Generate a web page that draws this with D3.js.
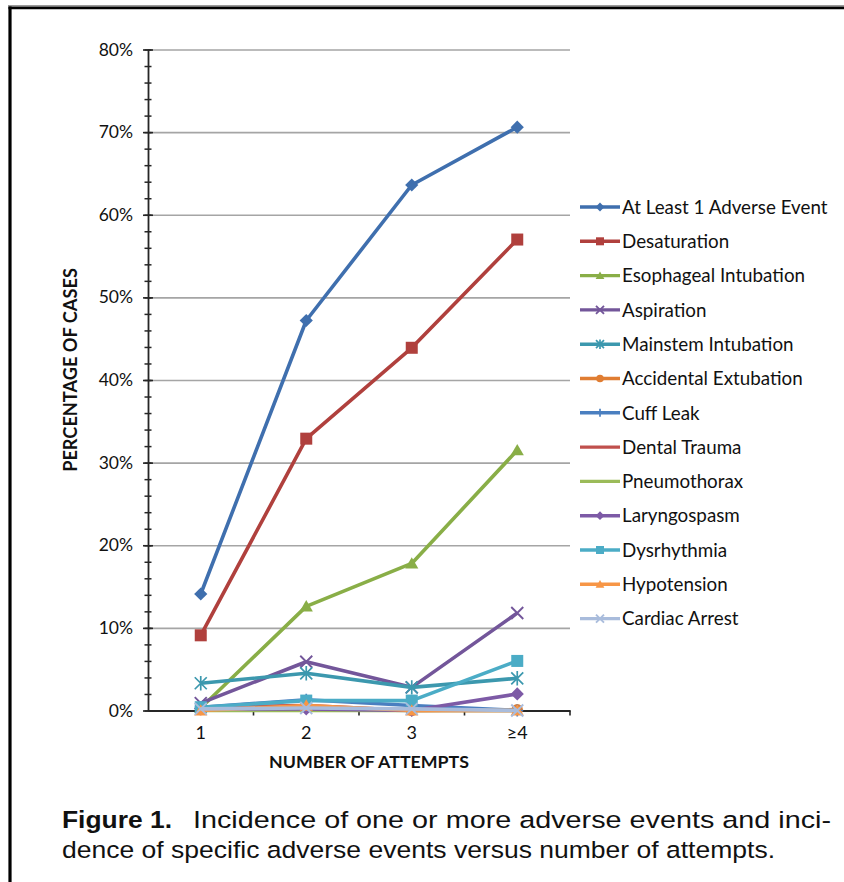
<!DOCTYPE html>
<html>
<head>
<meta charset="utf-8">
<script src="https://cdn.jsdelivr.net/npm/d3@7/dist/d3.min.js"></script>
<style>
  html, body { margin: 0; padding: 0; background: #fff; }
  svg { display: block; }
</style>
</head>
<body>
<svg id="chart" width="844" height="882"></svg>
<script>
// ---------- DATA ----------
const categories = ["1", "2", "3", "≥4"];
const seriesNames = [
  "At Least 1 Adverse Event", "Desaturation", "Esophageal Intubation", "Aspiration",
  "Mainstem Intubation", "Accidental Extubation", "Cuff Leak", "Dental Trauma",
  "Pneumothorax", "Laryngospasm", "Dysrhythmia", "Hypotension", "Cardiac Arrest"
];
const atLeastOne      = [14.1, 47.2, 63.6, 70.6];
const desaturation    = [9.1, 32.9, 43.9, 57.0];
const esophageal      = [0.3, 12.6, 17.8, 31.5];
const aspiration      = [0.9, 5.9, 2.8, 11.8];
const mainstem        = [3.3, 4.5, 2.8, 3.9];
const accExtubation   = [0.1, 0.4, 0.0, 0.1];
const cuffLeak        = [0.4, 1.3, 0.6, 0.0];
const dentalTrauma    = [0.4, 0.6, 0.0, 0.0];
const pneumothorax    = [0.0, 0.0, 0.0, 0.0];
const laryngospasm    = [0.2, 0.2, 0.0, 2.0];
const dysrhythmia     = [0.4, 1.2, 1.2, 6.0];
const hypotension     = [0.0, 0.6, 0.0, 0.0];
const cardiacArrest   = [0.2, 0.3, 0.2, 0.0];
const seriesValues = [atLeastOne, desaturation, esophageal, aspiration, mainstem,
  accExtubation, cuffLeak, dentalTrauma, pneumothorax, laryngospasm, dysrhythmia,
  hypotension, cardiacArrest];
const yTickValues = [0, 10, 20, 30, 40, 50, 60, 70, 80];
const yMinorValues = d3.range(0, 81, 2);
const yAxisTitle = "PERCENTAGE OF CASES";
const xAxisTitle = "NUMBER OF ATTEMPTS";
const captionBold = "Figure 1.";
const captionLine1 = "Incidence of one or more adverse events and inci-";
const captionLine2 = "dence of specific adverse events versus number of attempts.";

// ---------- STYLE ----------
const colors = ["#3F6FAE", "#B0403D", "#89AE47", "#73569A", "#3C98AE", "#E07D32",
  "#4A7FC0", "#C0504D", "#9BBB59", "#7D5AA6", "#4BACC6", "#F79646", "#A9BCDC"];
const markers = ["diamond", "square", "triangle", "x", "star", "circle", "plus",
  "none", "none", "diamond", "square", "triangle", "x"];

const svg = d3.select("#chart");
svg.append("rect").attr("width", 844).attr("height", 882).attr("fill", "#fff");

// frame
svg.append("line").attr("x1", 8).attr("x2", 844).attr("y1", 5.6).attr("y2", 5.6)
  .attr("stroke", "#9a9a9a").attr("stroke-width", 1.4);
svg.append("line").attr("x1", 8.5).attr("x2", 844).attr("y1", 7.8).attr("y2", 7.8)
  .attr("stroke", "#000").attr("stroke-width", 2.8);
svg.append("line").attr("x1", 10).attr("x2", 10).attr("y1", 6.4).attr("y2", 882)
  .attr("stroke", "#000").attr("stroke-width", 3.2);

const pLeft = 148, pRight = 570, pTop = 49.5, pBottom = 710.5;
const x = d3.scaleBand().domain(categories).range([pLeft, pRight]);
const y = d3.scaleLinear().domain([0, 80]).range([pBottom, pTop]);
const font = "Lato, 'Open Sans', sans-serif";

// gridlines
const grid = svg.append("g").attr("transform", `translate(${pLeft},0)`)
  .call(d3.axisLeft(y).tickValues(yTickValues.filter(v => v > 0)).tickSize(-(pRight - pLeft)).tickFormat(""));
grid.select(".domain").remove();
grid.selectAll("line").attr("stroke", "#A5A5A5").attr("stroke-width", 1.6);

// y axis minor ticks
const yMinor = svg.append("g").attr("transform", `translate(${pLeft},0)`)
  .call(d3.axisLeft(y).tickValues(yMinorValues).tickFormat(""));
yMinor.select(".domain").remove();
yMinor.selectAll("line").attr("x1", -3.5).attr("x2", 3.5).attr("stroke", "#262626").attr("stroke-width", 1.5);

// y axis major
const yAx = svg.append("g").attr("transform", `translate(${pLeft},0)`)
  .call(d3.axisLeft(y).tickValues(yTickValues).tickSizeInner(5).tickSizeOuter(0).tickPadding(10).tickFormat(d => d + "%"));
yAx.select(".domain").attr("stroke", "#262626").attr("stroke-width", 1.8);
yAx.selectAll("line").attr("x1", -5).attr("x2", 5).attr("stroke", "#262626").attr("stroke-width", 1.6);
yAx.selectAll("text").attr("font-family", font).attr("font-size", 17.5).attr("fill", "#111");

// x axis
const xAx = svg.append("g").attr("transform", `translate(0,${pBottom})`)
  .call(d3.axisBottom(x).tickSize(0).tickPadding(16));
xAx.select(".domain").attr("stroke", "#262626").attr("stroke-width", 1.8);
xAx.selectAll("text").attr("font-family", font).attr("font-size", 18).attr("fill", "#111");
svg.append("g").selectAll("line").data(categories).join("line")
  .attr("x1", d => x(d) + x.bandwidth()).attr("x2", d => x(d) + x.bandwidth())
  .attr("y1", pBottom).attr("y2", pBottom + 5)
  .attr("stroke", "#262626").attr("stroke-width", 1.6);

// axis titles
svg.append("text").attr("transform", `translate(${(pLeft + pRight) / 2 + 10},768)`)
  .attr("text-anchor", "middle").attr("font-family", font).attr("font-weight", "bold")
  .attr("font-size", 17.8).attr("fill", "#111").text(xAxisTitle);
svg.append("text").attr("transform", `translate(77,370) rotate(-90)`)
  .attr("text-anchor", "middle").attr("font-family", font).attr("font-weight", "bold")
  .attr("font-size", 18.2).attr("fill", "#111").text(yAxisTitle);

// marker drawing
function drawMarker(g, type, color, s) {
  const h = s / 2;
  if (type === "diamond") {
    g.append("path").attr("d", `M0,${-h * 1.1}L${h * 1.1},0L0,${h * 1.1}L${-h * 1.1},0Z`).attr("fill", color);
  } else if (type === "square") {
    g.append("rect").attr("x", -h).attr("y", -h).attr("width", s).attr("height", s).attr("fill", color);
  } else if (type === "triangle") {
    g.append("path").attr("d", `M0,${-h * 1.05}L${h * 1.1},${h * 0.85}L${-h * 1.1},${h * 0.85}Z`).attr("fill", color);
  } else if (type === "circle") {
    g.append("circle").attr("r", h * 0.95).attr("fill", color);
  } else if (type === "x") {
    g.append("path").attr("d", `M${-h},${-h}L${h},${h}M${-h},${h}L${h},${-h}`)
      .attr("stroke", color).attr("stroke-width", 1.9).attr("fill", "none");
  } else if (type === "star") {
    g.append("path").attr("d", `M${-h},${-h}L${h},${h}M${-h},${h}L${h},${-h}M0,${-h * 1.2}L0,${h * 1.2}`)
      .attr("stroke", color).attr("stroke-width", 1.7).attr("fill", "none");
  } else if (type === "plus") {
    g.append("path").attr("d", `M${-h},0L${h},0M0,${-h}L0,${h}`)
      .attr("stroke", color).attr("stroke-width", 1.7).attr("fill", "none");
  }
}

// series
const line = d3.line().x((d, i) => x(categories[i]) + x.bandwidth() / 2).y(d => y(d));
const plot = svg.append("g");
seriesValues.forEach((vals, si) => {
  const g = plot.append("g");
  g.append("path").attr("d", line(vals)).attr("fill", "none")
    .attr("stroke", colors[si]).attr("stroke-width", 3.6).attr("stroke-linejoin", "round");
  vals.forEach((v, i) => {
    const mg = g.append("g").attr("transform",
      `translate(${x(categories[i]) + x.bandwidth() / 2},${y(v)})`);
    drawMarker(mg, markers[si], colors[si], 12);
  });
});

// legend
const legend = svg.append("g");
seriesNames.forEach((name, si) => {
  const ly = 207 + si * 34.3;
  const g = legend.append("g").attr("transform", `translate(580,${ly})`);
  g.append("line").attr("x1", 0).attr("x2", 40).attr("y1", 0).attr("y2", 0)
    .attr("stroke", colors[si]).attr("stroke-width", 3.4);
  const mg = g.append("g").attr("transform", "translate(20,0)");
  drawMarker(mg, markers[si], colors[si], 8);
  g.append("text").attr("x", 42).attr("y", 0).attr("dy", "0.36em")
    .attr("font-family", font).attr("font-size", 18.8).attr("fill", "#111").text(name);
});

// caption
const capFont = "'Liberation Sans Narrow', 'Liberation Sans', Arial, sans-serif";
svg.append("text").attr("x", 62).attr("y", 828).attr("font-family", capFont)
  .attr("font-weight", "bold").attr("font-size", 24.5).attr("fill", "#111")
  .attr("textLength", 110).attr("lengthAdjust", "spacingAndGlyphs").text(captionBold);
svg.append("text").attr("x", 193).attr("y", 828).attr("font-family", capFont)
  .attr("font-size", 24.5).attr("fill", "#111")
  .attr("textLength", 638).attr("lengthAdjust", "spacingAndGlyphs").text(captionLine1);
svg.append("text").attr("x", 62).attr("y", 858).attr("font-family", capFont)
  .attr("font-size", 24.5).attr("fill", "#111")
  .attr("textLength", 713).attr("lengthAdjust", "spacingAndGlyphs").text(captionLine2);
</script>
</body>
</html>
